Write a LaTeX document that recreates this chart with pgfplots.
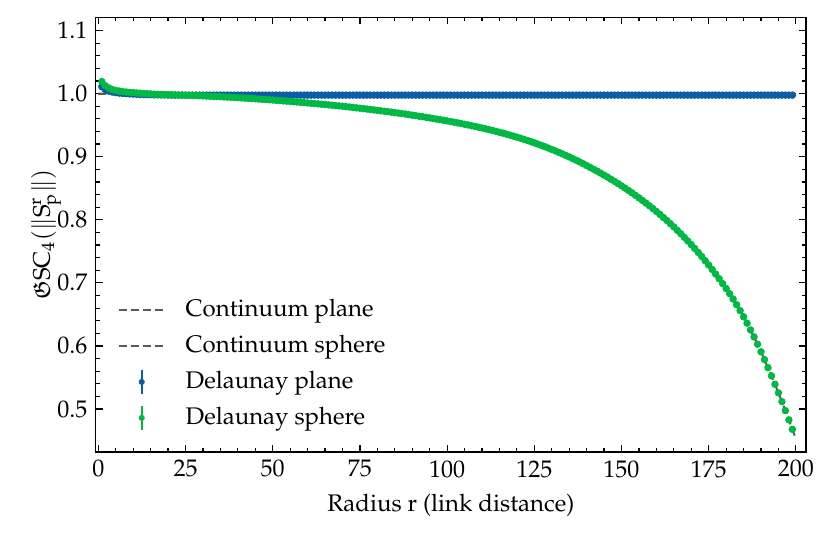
\documentclass[border=0pt]{standalone}
\usepackage[T1]{fontenc}
\usepackage{mathpazo}
\usepackage{amssymb}
\usepackage{pgfplots}
\pgfplotsset{compat=1.18}
\definecolor{cblue}{HTML}{0C5DA5}
\definecolor{cgreen}{HTML}{00B945}
\definecolor{cdash}{HTML}{5A5A5A}
\begin{document}
\fontsize{12}{14.4}\selectfont
\begin{tikzpicture}
\useasboundingbox (-47.85pt,-42.5pt) rectangle (367.65pt,226pt);
\begin{axis}[
  at={(0,0)}, anchor=south west,
  scale only axis, width=355.15pt, height=217.35pt,
  xmin=-0.75, xmax=202.9, ymin=0.432, ymax=1.1209,
  xtick={0,25,...,200}, ytick={0.5,0.6,...,1.1},
  minor x tick num=4, minor y tick num=4,
  yticklabel style={/pgf/number format/.cd,fixed,fixed zerofill,precision=1},
  tick align=inside, tick pos=both,
  major tick length=3.5pt, minor tick length=2pt,
  every tick/.style={black, line width=0.6pt},
  axis line style={line width=0.7pt},
  xlabel={Radius r (link distance)},
  ylabel={$\mathfrak{G}\mathrm{SC}_4(\|\mathrm{S}^{\mathrm{r}}_{\mathrm{p}}\|)$},
  ylabel shift=-10pt,
  label style={font=\fontsize{12}{14.4}\selectfont},
  tick label style={font=\fontsize{12}{14.4}\selectfont},
  legend style={at={(0.022,0.035)}, anchor=south west, draw=none, fill=none,
    font=\fontsize{12}{14.4}\selectfont, row sep=3.5pt,
    nodes={inner xsep=10pt}},
  legend cell align=left,
]
% Delaunay plane
\addplot[only marks, mark=*, mark size=1.65pt, color=cblue, forget plot] coordinates {
(1,1.011)(2,1.0065)(3,1.004)(4,1.0025)(5,1.0015)(6,1.0008)(7,1.0003)(8,0.9999)(9,0.9995)(10,0.9992)
(11,0.999)(12,0.9987)(13,0.9985)(14,0.9983)(15,0.9982)(16,0.998)(17,0.9979)(18,0.9978)(19,0.9978)(20,0.9977)
(21,0.9976)(22,0.9976)(23,0.9976)(24,0.9976)(25,0.9976)(26,0.9976)(27,0.9976)(28,0.9976)(29,0.9976)(30,0.9976)
(31,0.9976)(32,0.9976)(33,0.9976)(34,0.9976)(35,0.9976)(36,0.9976)(37,0.9976)(38,0.9976)(39,0.9976)(40,0.9976)
(41,0.9976)(42,0.9976)(43,0.9976)(44,0.9976)(45,0.9976)(46,0.9976)(47,0.9976)(48,0.9976)(49,0.9976)(50,0.9976)
(51,0.9976)(52,0.9976)(53,0.9976)(54,0.9976)(55,0.9976)(56,0.9976)(57,0.9976)(58,0.9976)(59,0.9976)(60,0.9976)
(61,0.9976)(62,0.9976)(63,0.9976)(64,0.9976)(65,0.9976)(66,0.9976)(67,0.9976)(68,0.9976)(69,0.9976)(70,0.9976)
(71,0.9976)(72,0.9976)(73,0.9976)(74,0.9976)(75,0.9976)(76,0.9976)(77,0.9976)(78,0.9976)(79,0.9976)(80,0.9976)
(81,0.9976)(82,0.9976)(83,0.9976)(84,0.9976)(85,0.9976)(86,0.9976)(87,0.9976)(88,0.9976)(89,0.9976)(90,0.9976)
(91,0.9976)(92,0.9976)(93,0.9976)(94,0.9976)(95,0.9976)(96,0.9976)(97,0.9976)(98,0.9976)(99,0.9976)(100,0.9976)
(101,0.9976)(102,0.9976)(103,0.9976)(104,0.9976)(105,0.9976)(106,0.9976)(107,0.9976)(108,0.9976)(109,0.9976)(110,0.9976)
(111,0.9976)(112,0.9976)(113,0.9976)(114,0.9976)(115,0.9976)(116,0.9976)(117,0.9976)(118,0.9976)(119,0.9976)(120,0.9976)
(121,0.9976)(122,0.9976)(123,0.9976)(124,0.9976)(125,0.9976)(126,0.9976)(127,0.9976)(128,0.9976)(129,0.9976)(130,0.9976)
(131,0.9976)(132,0.9976)(133,0.9976)(134,0.9976)(135,0.9976)(136,0.9976)(137,0.9976)(138,0.9976)(139,0.9976)(140,0.9976)
(141,0.9976)(142,0.9976)(143,0.9976)(144,0.9976)(145,0.9976)(146,0.9976)(147,0.9976)(148,0.9976)(149,0.9976)(150,0.9976)
(151,0.9976)(152,0.9976)(153,0.9976)(154,0.9976)(155,0.9976)(156,0.9976)(157,0.9976)(158,0.9976)(159,0.9976)(160,0.9976)
(161,0.9976)(162,0.9976)(163,0.9976)(164,0.9976)(165,0.9976)(166,0.9976)(167,0.9976)(168,0.9976)(169,0.9976)(170,0.9976)
(171,0.9976)(172,0.9976)(173,0.9976)(174,0.9976)(175,0.9976)(176,0.9976)(177,0.9976)(178,0.9976)(179,0.9976)(180,0.9976)
(181,0.9976)(182,0.9976)(183,0.9976)(184,0.9976)(185,0.9976)(186,0.9976)(187,0.9976)(188,0.9976)(189,0.9976)(190,0.9976)
(191,0.9976)(192,0.9976)(193,0.9976)(194,0.9976)(195,0.9976)(196,0.9976)(197,0.9976)(198,0.9976)(199,0.9976)
};
% Continuum plane
\addplot[cdash, line width=1pt, dash pattern=on 4pt off 2pt,
  legend image code/.code={\draw[cdash, line width=1pt, dash pattern=on 4pt off 2pt] (0pt,0pt) -- (23pt,0pt);}] coordinates {(0,1.0)(200,1.0)};
\addlegendentry{Continuum plane}
% Continuum sphere
\addplot[cdash, line width=1pt, dash pattern=on 4pt off 2pt,
  legend image code/.code={\draw[cdash, line width=1pt, dash pattern=on 4pt off 2pt] (0pt,0pt) -- (23pt,0pt);}] coordinates {
(0,1.0)(10,0.9996)(20,0.9984)(30,0.9963)(40,0.9934)(50,0.9898)(60,0.9852)(70,0.9799)(80,0.9734)(90,0.9658)
(100,0.9567)(105,0.9514)(110,0.9455)(115,0.9387)(120,0.9310)(125,0.9220)(130,0.9115)(135,0.8996)(140,0.8860)(145,0.8708)(150,0.8539)
(155,0.8348)(160,0.8132)(165,0.7887)(170,0.7606)(172,0.7482)(174,0.7351)(176,0.7212)(178,0.7066)(180,0.6911)
(182,0.6744)(184,0.6561)(186,0.6361)(188,0.6144)(190,0.5908)(192,0.5657)(194,0.5394)(196,0.5118)(198,0.4829)(200,0.4526)
};
\addlegendentry{Continuum sphere}
% Delaunay sphere
\addplot[only marks, mark=*, mark size=1.65pt, color=cgreen, forget plot] coordinates {
(1,1.019)(2,1.0125)(3,1.009)(4,1.0065)(5,1.005)(6,1.004)(7,1.003)(8,1.0025)(9,1.002)(10,1.0015)
(11,1.001)(12,1.0006)(13,1.0002)(14,0.9998)(15,0.9994)(16,0.9991)(17,0.9988)(18,0.9987)(19,0.9985)(20,0.9984)
(21,0.9982)(22,0.9980)(23,0.9978)(24,0.9976)(25,0.9974)(26,0.9972)(27,0.9970)(28,0.9968)(29,0.9966)(30,0.9963)
(31,0.9961)(32,0.9958)(33,0.9955)(34,0.9953)(35,0.9950)(36,0.9947)(37,0.9944)(38,0.9941)(39,0.9938)(40,0.9934)
(41,0.9931)(42,0.9928)(43,0.9924)(44,0.9921)(45,0.9917)(46,0.9913)(47,0.9909)(48,0.9906)(49,0.9902)(50,0.9898)
(51,0.9893)(52,0.9889)(53,0.9885)(54,0.9880)(55,0.9876)(56,0.9871)(57,0.9867)(58,0.9862)(59,0.9857)(60,0.9852)
(61,0.9847)(62,0.9842)(63,0.9837)(64,0.9832)(65,0.9827)(66,0.9821)(67,0.9816)(68,0.9810)(69,0.9805)(70,0.9799)
(71,0.9793)(72,0.9787)(73,0.9781)(74,0.9774)(75,0.9768)(76,0.9761)(77,0.9755)(78,0.9748)(79,0.9741)(80,0.9734)
(81,0.9727)(82,0.9720)(83,0.9713)(84,0.9706)(85,0.9698)(86,0.9691)(87,0.9683)(88,0.9676)(89,0.9667)(90,0.9658)
(91,0.9650)(92,0.9641)(93,0.9633)(94,0.9624)(95,0.9615)(96,0.9605)(97,0.9596)(98,0.9587)(99,0.9577)(100,0.9567)
(101,0.9557)(102,0.9547)(103,0.9536)(104,0.9525)(105,0.9514)(106,0.9503)(107,0.9491)(108,0.9479)(109,0.9467)(110,0.9455)
(111,0.9442)(112,0.9429)(113,0.9416)(114,0.9402)(115,0.9387)(116,0.9373)(117,0.9358)(118,0.9342)(119,0.9326)(120,0.9310)
(121,0.9293)(122,0.9275)(123,0.9257)(124,0.9239)(125,0.9220)(126,0.9200)(127,0.9180)(128,0.9159)(129,0.9137)(130,0.9115)
(131,0.9093)(132,0.9069)(133,0.9045)(134,0.9021)(135,0.8996)(136,0.8970)(137,0.8944)(138,0.8917)(139,0.8889)(140,0.8860)
(141,0.8831)(142,0.8801)(143,0.8771)(144,0.8740)(145,0.8708)(146,0.8676)(147,0.8642)(148,0.8609)(149,0.8574)(150,0.8539)
(151,0.8502)(152,0.8465)(153,0.8427)(154,0.8388)(155,0.8348)(156,0.8307)(157,0.8265)(158,0.8222)(159,0.8178)(160,0.8132)
(161,0.8086)(162,0.8038)(163,0.7989)(164,0.7939)(165,0.7887)(166,0.7833)(167,0.7779)(168,0.7722)(169,0.7665)(170,0.7606)
(171,0.7545)(172,0.7482)(173,0.7418)(174,0.7351)(175,0.7283)(176,0.7212)(177,0.7140)(178,0.7066)(179,0.6989)(180,0.6911)
(181,0.6829)(182,0.6744)(183,0.6654)(184,0.6561)(185,0.6463)(186,0.6361)(187,0.6254)(188,0.6144)(189,0.6028)(190,0.5908)
(191,0.5784)(192,0.5657)(193,0.5527)(194,0.5394)(195,0.5257)(196,0.5118)(197,0.4975)(198,0.4829)(199,0.4679)
};
\addlegendimage{legend image code/.code={
  \draw[cblue, line width=1pt] (11.5pt,-6pt) -- (11.5pt,6pt);
  \fill[cblue] (11.5pt,0pt) circle (1.3pt);}}
\addlegendentry{Delaunay plane}
\addlegendimage{legend image code/.code={
  \draw[cgreen, line width=1pt] (11.5pt,-6pt) -- (11.5pt,6pt);
  \fill[cgreen] (11.5pt,0pt) circle (1.3pt);}}
\addlegendentry{Delaunay sphere}
\end{axis}
\end{tikzpicture}
\end{document}
